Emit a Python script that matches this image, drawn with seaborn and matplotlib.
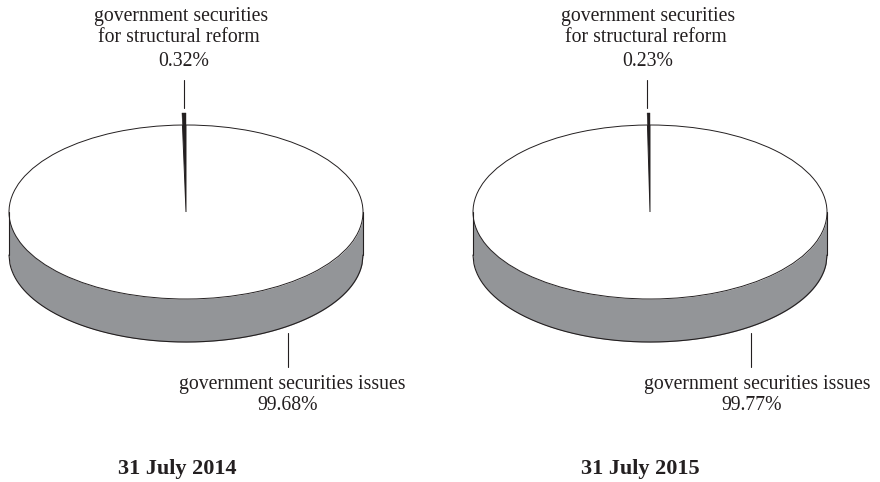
# Government securities split - two 3D style pies
import numpy as np
import matplotlib
matplotlib.use("Agg")
import matplotlib.pyplot as plt
from matplotlib.lines import Line2D
import seaborn as sns

# Data
dates = ["31 July 2014", "31 July 2015"]
reform_share = [0.32, 0.23]
issues_share = [99.68, 99.77]
reform_label = ["government securities", "for structural reform"]
issues_label = "government securities issues"

sns.set_theme(style="white")
plt.rcParams['font.family'] = ['Liberation Serif', 'DejaVu Serif']

W, H = 880, 482
fig = plt.figure(figsize=(W / 100, H / 100), dpi=100, facecolor="white")

DARK = "#231f20"
GREY = "#939598"
RX, RY, DEPTH = 177, 87, 43
CY = 212


def label(x, y, s, size=14.2, **kw):
    fig.text(x / W, 1 - y / H, s, ha="center", va="center", color=DARK, fontsize=size, **kw)


def leader(x, y0, y1):
    fig.add_artist(Line2D([x / W, x / W], [1 - y0 / H, 1 - y1 / H], color=DARK, lw=0.8))


# one set of positions per panel
centers = [186, 650]
top_leader_x = [183.5, 647]
low_leader_x = [288, 751]
date_x = [177, 640]
issues_x = [292, 757]
pct_x = [288, 752]
reform_x = [181, 648]
reform_pct_x = [184, 648]

for i, cx in enumerate(centers):
    ax = fig.add_axes([(cx - RX) / W, 1 - (CY + RY) / H, 2 * RX / W, 2 * RY / H])

    # side wall under the front half of the ellipse
    xs = np.linspace(-1, 1, 400)
    front = -np.sqrt(1 - xs ** 2)
    drop = DEPTH / RY
    ax.fill_between(xs, front, front - drop, color=GREY, lw=0, clip_on=False)
    ax.plot(xs, front - drop, color=DARK, lw=0.8, clip_on=False)
    ax.plot([-1, -1], [0, -drop], color=DARK, lw=0.8, clip_on=False)
    ax.plot([1, 1], [0, -drop], color=DARK, lw=0.8, clip_on=False)

    wedges, _ = ax.pie([reform_share[i], issues_share[i]], colors=[DARK, "white"],
                       startangle=90, radius=1, wedgeprops=dict(edgecolor=DARK, linewidth=0.7))
    wedges[0].set_radius(1.138)
    wedges[0].set_linewidth(0.3)
    for w in wedges:
        w.set_clip_on(False)

    ax.set_aspect("auto")
    ax.set_xlim(-1, 1)
    ax.set_ylim(-1, 1)
    ax.axis("off")

    leader(top_leader_x[i], 80, 108)
    leader(low_leader_x[i], 333, 367)

    label(reform_x[i], 16, reform_label[0])
    label(reform_x[i] - 2, 38, reform_label[1])
    label(reform_pct_x[i], 61, f"{reform_share[i]:.2f}%")
    label(issues_x[i], 385, issues_label)
    label(pct_x[i], 405, f"{issues_share[i]:.2f}%")
    label(date_x[i], 469, dates[i], size=16, fontweight="bold")

fig.savefig("out.png", dpi=100)
